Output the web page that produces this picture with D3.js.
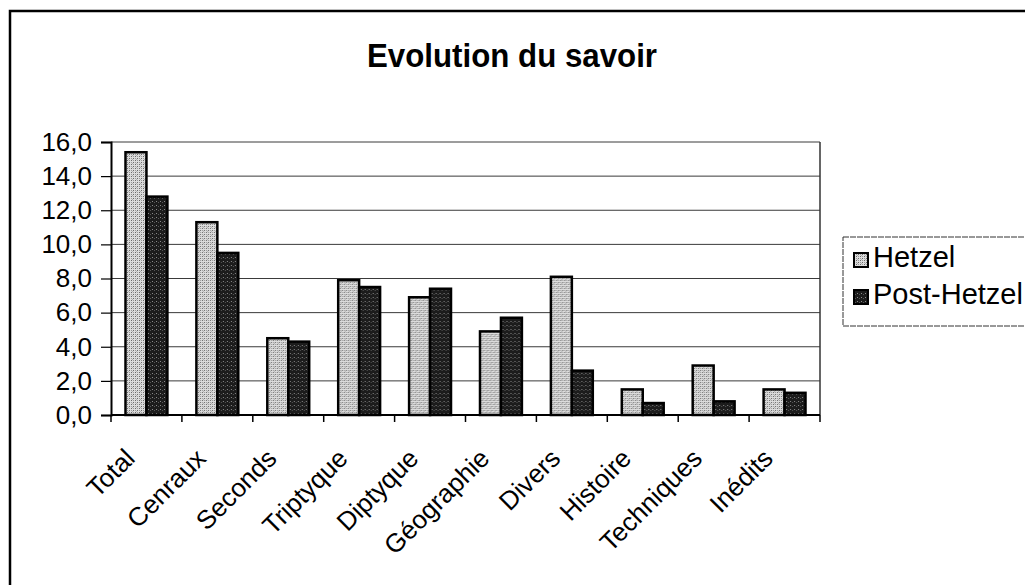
<!DOCTYPE html>
<html>
<head>
<meta charset="utf-8">
<script src="https://cdn.jsdelivr.net/npm/d3@7"></script>
<style>
  html, body { margin: 0; padding: 0; background: #fff; }
  svg { display: block; font-family: "Liberation Sans", Arial, sans-serif; }
</style>
</head>
<body>
<svg id="chart" width="1025" height="585"></svg>
<script>
const categories = ["Total", "Cenraux", "Seconds", "Triptyque", "Diptyque", "Géographie", "Divers", "Histoire", "Techniques", "Inédits"];
const hetzel     = [15.4, 11.3, 4.5, 7.9, 6.9, 4.9, 8.1, 1.5, 2.9, 1.5];
const postHetzel = [12.8, 9.5, 4.3, 7.5, 7.4, 5.7, 2.6, 0.7, 0.8, 1.3];
const seriesNames = ["Hetzel", "Post-Hetzel"];
const yTicks = [0, 2, 4, 6, 8, 10, 12, 14, 16];
const titleText = "Evolution du savoir";

(function () {
const svg = d3.select("#chart");

// patterns
const defs = svg.append("defs");
const pLight = defs.append("pattern").attr("id", "pLight").attr("width", 4).attr("height", 4).attr("patternUnits", "userSpaceOnUse");
pLight.append("rect").attr("width", 4).attr("height", 4).attr("fill", "#dcdcdc");
[[0,0,"#6a6a6a"],[2,2,"#6a6a6a"],[2,0,"#9a9a9a"],[0,2,"#9a9a9a"],[1,3,"#b0b0b0"]].forEach(([px,py,c]) =>
  pLight.append("rect").attr("x", px).attr("y", py).attr("width", 1).attr("height", 1).attr("fill", c));
const pDark = defs.append("pattern").attr("id", "pDark").attr("width", 4).attr("height", 4).attr("patternUnits", "userSpaceOnUse");
pDark.append("rect").attr("width", 4).attr("height", 4).attr("fill", "#1c1c1c");
pDark.append("rect").attr("x", 1).attr("y", 1).attr("width", 1).attr("height", 1).attr("fill", "#8a8a8a");
pDark.append("rect").attr("x", 3).attr("y", 2).attr("width", 1).attr("height", 1).attr("fill", "#555");
const fills = ["url(#pLight)", "url(#pDark)"];

// outer frame
svg.append("rect").attr("x", 10).attr("y", 11).attr("width", 1040).attr("height", 600)
  .attr("fill", "#fff").attr("stroke", "#000").attr("stroke-width", 2.5);

// title
svg.append("text").attr("x", 512).attr("y", 67).attr("text-anchor", "middle")
  .attr("font-size", 34).attr("font-weight", "bold").attr("fill", "#000")
  .attr("textLength", 290).attr("lengthAdjust", "spacingAndGlyphs").text(titleText);

const pLeft = 111, pRight = 820, pTop = 142, pBottom = 415;
const x0 = d3.scaleBand().domain(categories).range([pLeft, pRight]).padding(0);
const x1 = d3.scaleBand().domain(seriesNames).range([14.5, x0.bandwidth() - 14.5]).padding(0);
const y = d3.scaleLinear().domain([0, 16]).range([pBottom, pTop]);

// gridlines
svg.append("g").selectAll("line").data(yTicks.filter(d => d > 0)).join("line")
  .attr("x1", pLeft).attr("x2", pRight).attr("y1", d => y(d)).attr("y2", d => y(d))
  .attr("stroke", "#3a3a3a").attr("stroke-width", 1);
// right border of plot
svg.append("line").attr("x1", pRight).attr("x2", pRight).attr("y1", pTop).attr("y2", pBottom)
  .attr("stroke", "#333").attr("stroke-width", 1.5);

// bars
const rows = categories.map((c, i) => ({ c, vals: [hetzel[i], postHetzel[i]] }));
svg.append("g").selectAll("g").data(rows).join("g")
  .attr("transform", d => `translate(${x0(d.c)},0)`)
  .selectAll("rect").data(d => d.vals.map((v, k) => ({ v, k }))).join("rect")
  .attr("x", d => x1(seriesNames[d.k]))
  .attr("y", d => y(d.v))
  .attr("width", x1.bandwidth())
  .attr("height", d => pBottom - y(d.v))
  .attr("fill", d => fills[d.k])
  .attr("stroke", "#000").attr("stroke-width", 2.5);

// y axis
const yAxis = d3.axisLeft(y).tickValues(yTicks).tickSize(10).tickPadding(9)
  .tickFormat(d => d3.format(".1f")(d).replace(".", ","));
const gy = svg.append("g").attr("transform", `translate(${pLeft},0)`).call(yAxis);
gy.select(".domain").attr("stroke", "#000").attr("stroke-width", 2);
gy.selectAll(".tick line").attr("stroke", "#000").attr("stroke-width", 1.2);
gy.selectAll("text").attr("font-size", 26).attr("fill", "#000").attr("font-family", "Liberation Sans, Arial, sans-serif");

// x axis
const gx = svg.append("g").attr("transform", `translate(0,${pBottom})`);
gx.append("line").attr("x1", pLeft).attr("x2", pRight).attr("stroke", "#000").attr("stroke-width", 2);
const boundaries = categories.map(c => x0(c)).concat([pRight]);
gx.selectAll("line.tk").data(boundaries).join("line").attr("class", "tk")
  .attr("x1", d => d).attr("x2", d => d).attr("y1", 0).attr("y2", 7)
  .attr("stroke", "#000").attr("stroke-width", 1.5);
gx.selectAll("text").data(categories).join("text")
  .attr("transform", d => `translate(${x0(d) + x0.bandwidth() / 2 - 10},${45}) rotate(-45)`)
  .attr("text-anchor", "end").attr("font-size", 26).attr("fill", "#000").text(d => d);

// legend
const lg = svg.append("g");
lg.append("rect").attr("x", 843).attr("y", 237).attr("width", 200).attr("height", 89)
  .attr("fill", "#fff").attr("stroke", "#333").attr("stroke-width", 1).attr("stroke-dasharray", "6,1");
const legendY = [253, 290];
seriesNames.forEach((s, k) => {
  lg.append("rect").attr("x", 854).attr("y", legendY[k]).attr("width", 14).attr("height", 14)
    .attr("fill", fills[k]).attr("stroke", "#000").attr("stroke-width", 2);
  lg.append("text").attr("x", 873).attr("y", legendY[k] + 14).attr("font-size", 29).attr("fill", "#000").text(s);
});
})();
</script>
</body>
</html>
